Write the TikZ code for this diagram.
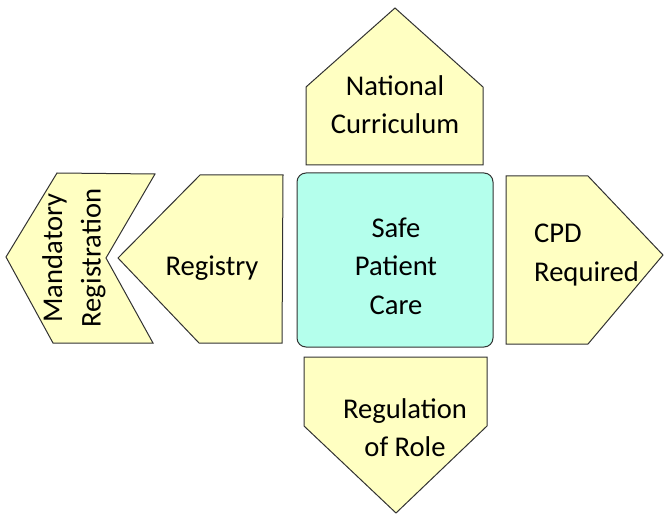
\documentclass[tikz,border=0pt]{standalone}
\usepackage{fontspec}
\setmainfont{Carlito}
\definecolor{paleyellow}{RGB}{255,255,194}
\definecolor{paleaqua}{RGB}{180,255,236}
\definecolor{edgegray}{RGB}{50,50,50}
\tikzset{
  petal/.style={fill=paleyellow, draw=edgegray, line width=1bp, line join=miter},
  hub/.style={fill=paleaqua, draw=edgegray, line width=1bp, rounded corners=9bp},
  lbl/.style={font=\fontsize{28.6bp}{38.5bp}\selectfont, inner sep=0pt, align=center}
}
\begin{document}
\begin{tikzpicture}[x=1bp,y=-1bp]
\useasboundingbox (0,0) rectangle (664,515);
% shapes
\draw[hub] (297,173) rectangle (493,347);
\draw[petal] (306,165) -- (306,87) -- (395,8) -- (483,87) -- (483,165) -- cycle;
\draw[petal] (304,357) -- (487,357) -- (487,426) -- (396,513) -- (304,426) -- cycle;
\draw[petal] (506,176) -- (588,176) -- (663,255) -- (588,344) -- (506,344) -- cycle;
\draw[petal] (283,175) -- (200,175) -- (118,258) -- (199,343) -- (282,343) -- cycle;
\draw[petal] (57,173) -- (155,174) -- (106,258) -- (153,343) -- (53,343) -- (6,257) -- cycle;
% labels
\node[lbl] (nat) at (395,104.5) {National\\Curriculum};
\node[lbl] (spc) at (396,266) {Safe\\Patient\\Care};
\node[lbl, align=left, anchor=west] (cpd) at (534,255) {CPD\\Required};
\node[lbl, anchor=base] (reg) at (212,275) {Registry};
\node[lbl] (rol) at (405,427.5) {Regulation\\of Role};
\node[lbl, rotate=90] (man) at (74,258) {Mandatory\\Registration};
\end{tikzpicture}
\end{document}
